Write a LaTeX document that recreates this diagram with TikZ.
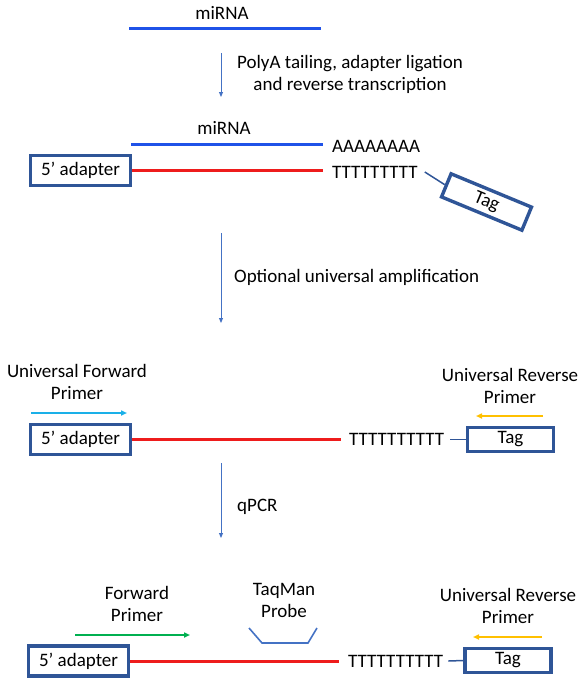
\documentclass[tikz,border=0pt]{standalone}
\usepackage{fontspec}
\setmainfont{Carlito}
\usetikzlibrary{arrows.meta}
\definecolor{mirblue}{HTML}{1F52E8}
\definecolor{cdnared}{HTML}{EE1C1C}
\definecolor{boxblue}{HTML}{2F5597}
\definecolor{flowblue}{HTML}{4472C4}
\definecolor{uprimer}{HTML}{1AB0E8}
\definecolor{rprimer}{HTML}{FFC000}
\definecolor{fprimer}{HTML}{00B050}
\newcommand{\fsz}{\fontsize{19}{22}\selectfont}
\tikzset{
  lbl/.style={inner sep=0pt, font=\fsz, align=center},
  adbox/.style={draw=boxblue, line width=3.4pt, minimum width=100pt, minimum height=30pt, inner sep=0pt, font=\fsz},
  tagbox/.style={adbox, minimum width=86pt, minimum height=24pt},
  flow/.style={draw=flowblue, line width=0.9pt, -{Triangle[length=5pt,width=4pt]}},
  mirna/.style={draw=mirblue, line width=3pt},
  cdna/.style={draw=cdnared, line width=3pt},
  linker/.style={draw=boxblue, line width=1.5pt},
  primer/.style={line width=2pt, -{Triangle[length=6pt,width=5pt]}},
  probeline/.style={draw=flowblue, line width=1.6pt}
}
\begin{document}
\begin{tikzpicture}[x=1pt,y=-1pt]
\useasboundingbox (0,0) rectangle (588,688);
% ---- top: miRNA
\node[lbl] (mi1) at (222,13) {miRNA};
\coordinate (m1a) at (129,28);
\coordinate (m1b) at (321,28);
\draw[mirna] (m1a) -- (m1b);
\coordinate (f1a) at (221,53);
\coordinate (f1b) at (221,97);
\draw[flow] (f1a) -- (f1b);
\node[lbl] (s1) at (350,74) {PolyA tailing, adapter ligation\\and reverse transcription};
% ---- block 2
\node[lbl] (mi2) at (224,128) {miRNA};
\node[adbox] (ad1) at (80.5,170.5) {5’ adapter};
\node[lbl,anchor=west] (A1) at (332,146) {AAAAAAAA};
\node[lbl,anchor=west] (T1) at (332,172) {TTTTTTTTT};
\coordinate (m2a) at (131,144);
\coordinate (m2b) at (323,144);
\draw[mirna] (m2a) -- (m2b);
\draw[cdna] (ad1.east) -- ([xshift=-9pt]ad1.east -| T1.west);
\node[tagbox, rotate=-22.5, minimum width=87pt, minimum height=25pt] (tag1) at (486.5,202) {Tag};
\draw[linker] ([xshift=7pt]T1.east) -- (tag1.west);
% ---- arrow 2
\coordinate (f2a) at (221,233);
\coordinate (f2b) at (221,323);
\draw[flow] (f2a) -- (f2b);
\node[lbl,anchor=west] (s2) at (234,277) {Optional universal amplification};
% ---- block 3
\node[lbl] (ufp) at (77,382) {Universal Forward\\Primer};
\coordinate (u1a) at (31,413);
\coordinate (u1b) at (127,413);
\draw[primer, uprimer] (u1a) -- (u1b);
\node[adbox] (ad2) at (80.5,439.5) {5’ adapter};
\node[lbl,anchor=west] (T2) at (349,439.5) {TTTTTTTTTT};
\draw[cdna] (ad2.east) -- ([xshift=-8pt]ad2.east -| T2.west);
\node[tagbox] (tag2) at (510.5,439.5) {Tag};
\draw[linker] ([xshift=6pt]T2.east) -- (tag2.west);
\coordinate (r1a) at (543,416);
\coordinate (r1b) at (476,416);
\draw[primer, rprimer] (r1a) -- (r1b);
\node[lbl] (urp1) at (510,386) {Universal Reverse\\Primer};
% ---- arrow 3
\coordinate (f3a) at (221,463);
\coordinate (f3b) at (221,538);
\draw[flow] (f3a) -- (f3b);
\node[lbl,anchor=west] (s3) at (237,507) {qPCR};
% ---- block 4
\node[lbl] (fp) at (137,603.5) {Forward\\Primer};
\coordinate (g1a) at (75,635);
\coordinate (g1b) at (190,635);
\draw[primer, fprimer] (g1a) -- (g1b);
\node[lbl] (probe) at (284,600.5) {TaqMan\\Probe};
\coordinate (p1) at (249,628);
\coordinate (p2) at (262,643);
\coordinate (p3) at (308,643);
\coordinate (p4) at (317,628);
\draw[probeline] (p1) -- (p2) -- (p3) -- (p4);
\node[adbox] (ad3) at (78.5,661) {5’ adapter};
\node[lbl,anchor=west] (T3) at (348,661) {TTTTTTTTTT};
\draw[cdna] (ad3.east) -- ([xshift=-9pt]ad3.east -| T3.west);
\node[tagbox] (tag3) at (508,660.5) {Tag};
\draw[linker] ([xshift=5pt]T3.east) -- (tag3.west);
\coordinate (r2a) at (542,637);
\coordinate (r2b) at (473,637);
\draw[primer, rprimer] (r2a) -- (r2b);
\node[lbl] (urp2) at (508,606) {Universal Reverse\\Primer};
\end{tikzpicture}
\end{document}
